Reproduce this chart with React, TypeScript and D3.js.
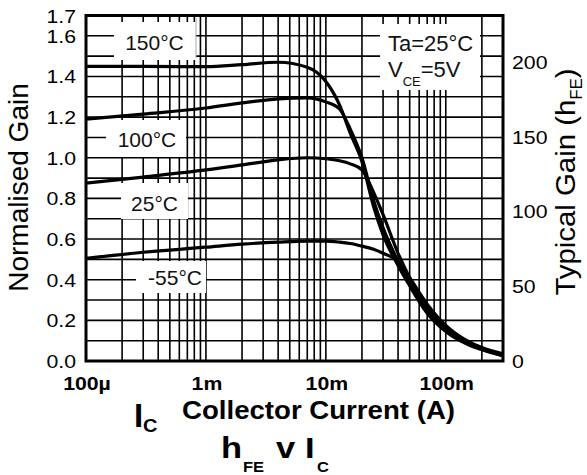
import React from 'react';
import * as d3 from 'd3';

// ---- data ----
const currents = [1e-4, 3e-4, 1e-3, 2e-3, 4e-3, 7e-3, 10e-3, 13e-3, 16e-3, 20e-3, 25e-3, 30e-3, 40e-3, 50e-3, 70e-3, 100e-3, 150e-3, 200e-3, 300e-3];
const gain150 = [1.45, 1.45, 1.448, 1.458, 1.47, 1.445, 1.375, 1.26, 1.12, 0.98, 0.76, 0.62, 0.47, 0.37, 0.235, 0.145, 0.083, 0.055, 0.025];
const gain100 = [1.19, 1.215, 1.245, 1.27, 1.29, 1.295, 1.275, 1.24, 1.14, 1.0, 0.79, 0.655, 0.49, 0.38, 0.245, 0.15, 0.087, 0.058, 0.027];
const gain25 = [0.875, 0.905, 0.94, 0.965, 0.99, 1.0, 0.995, 0.985, 0.97, 0.94, 0.83, 0.72, 0.53, 0.41, 0.265, 0.16, 0.092, 0.06, 0.03];
const gainM55 = [0.505, 0.535, 0.56, 0.575, 0.585, 0.59, 0.59, 0.585, 0.578, 0.565, 0.55, 0.53, 0.49, 0.41, 0.28, 0.175, 0.1, 0.066, 0.035];
const seriesNames = ['150°C', '100°C', '25°C', '-55°C'];
const seriesValues = [gain150, gain100, gain25, gainM55];
const leftTicks = [0, 0.2, 0.4, 0.6, 0.8, 1.0, 1.2, 1.4, 1.6, 1.7];
const rightTicks = [0, 50, 100, 150, 200];
const xTicks = [1e-4, 1e-3, 1e-2, 1e-1];
const xTickLabels = ['100µ', '1m', '10m', '100m'];

// ---- layout ----
const W = 587, H = 475;
const L = 86, R = 503, T = 15.5, B = 361;
const FONT = "'Liberation Sans', Arial, sans-serif";

const x = d3.scaleLog().domain([1e-4, 0.3]).range([L, R]);
const y = d3.scaleLinear().domain([0, 1.7]).range([B, T]);
const yR = d3.scaleLinear().domain([0, 231]).range([B, T]);

const labelBoxes = [
  { bx: 114, by: 22, bw: 82, bh: 38, tx: 154.5, ty: 50 },
  { bx: 106, by: 120, bw: 80, bh: 37, tx: 147, ty: 146.5 },
  { bx: 121, by: 183, bw: 67, bh: 36, tx: 154.5, ty: 211 },
  { bx: 136, by: 261, bw: 70, bh: 32, tx: 175, ty: 285 },
];

function ST({ x: px, y: py, sx = 1.12, anchor = 'middle', size = 19, weight = 'normal', baseline, children }: any) {
  return (
    <text
      transform={`translate(${px},${py}) scale(${sx},1)`}
      textAnchor={anchor}
      fontSize={size}
      fontWeight={weight}
      dominantBaseline={baseline}
      fontFamily={FONT}
      fill="#000"
    >
      {children}
    </text>
  );
}

export default function App() {
  const hGrid = d3.range(1, 17).map((i) => i / 10);
  const vGrid: number[] = [];
  for (let d = -4; d <= -1; d++) {
    for (let m = 1; m <= 9; m++) {
      const v = m * Math.pow(10, d);
      if (v > 1e-4 * 1.0001 && v < 0.3 * 0.999) vGrid.push(v);
    }
  }
  const line = d3
    .line<number>()
    .x((_, i) => x(currents[i]))
    .y((v) => y(v))
    .curve(d3.curveMonotoneX);

  return (
    <svg width={W} height={H} style={{ position: 'fixed', left: 0, top: 0, background: '#fff' }}>
      <rect width={W} height={H} fill="#fff" />
      {/* grid */}
      <g stroke="#000" strokeWidth={1.6}>
        {hGrid.map((v) => (
          <line key={'h' + v} x1={L} x2={R} y1={y(v)} y2={y(v)} />
        ))}
        {vGrid.map((v) => (
          <line key={'v' + v} x1={x(v)} x2={x(v)} y1={T} y2={B} />
        ))}
      </g>
      {/* label boxes */}
      {labelBoxes.map((b, i) => (
        <rect key={'b' + i} x={b.bx} y={b.by} width={b.bw} height={b.bh} fill="#fff" />
      ))}
      <line x1={196} x2={196} y1={18} y2={58} stroke="#aaa" strokeWidth={1} />
      <rect x={380} y={24} width={100} height={66} fill="#fff" />
      {/* frame */}
      <rect x={L} y={T} width={R - L} height={B - T} fill="none" stroke="#000" strokeWidth={3} />
      {/* curves */}
      <g fill="none" stroke="#000" strokeWidth={3.2} strokeLinejoin="round">
        {seriesValues.map((vals, i) => (
          <path key={'c' + i} d={line(vals) || ''} />
        ))}
      </g>
      {/* series labels */}
      {labelBoxes.map((b, i) => (
        <text key={'t' + i} x={b.tx} y={b.ty} textAnchor="middle" fontSize={21} fontFamily={FONT} fill="#111">
          {seriesNames[i]}
        </text>
      ))}
      <text x={388} y={50.5} fontSize={22} fontFamily={FONT} fill="#111">Ta=25°C</text>
      <text x={388} y={77} fontSize={22} fontFamily={FONT} fill="#111">
        V<tspan fontSize={13} dy={9}>CE</tspan><tspan dy={-9}>=5V</tspan>
      </text>
      {/* left ticks */}
      {leftTicks.map((v) => (
        <ST key={'l' + v} x={76} y={y(v) + 7} anchor="end" size={19}>
          {v.toFixed(1)}
        </ST>
      ))}
      {/* right ticks */}
      {rightTicks.map((v) => (
        <ST key={'r' + v} x={512} y={yR(v) + 7} anchor="start" size={19}>
          {v}
        </ST>
      ))}
      {/* x ticks */}
      {xTicks.map((v, i) => (
        <ST key={'x' + v} x={x(v) + 1} y={390} anchor="middle" size={19} weight="bold">
          {xTickLabels[i]}
        </ST>
      ))}
      {/* axis titles */}
      <text
        transform="translate(28,187.5) rotate(-90)"
        textAnchor="middle"
        fontSize={28}
        fontFamily={FONT}
        fill="#000"
      >
        Normalised Gain
      </text>
      <text
        transform="translate(575,182) rotate(-90) scale(1.05,1)"
        textAnchor="middle"
        fontSize={28}
        fontFamily={FONT}
        fill="#000"
      >
        Typical Gain (h<tspan fontSize={16} dy={7}>FE</tspan><tspan dy={-7}>)</tspan>
      </text>
      <ST x={134} y={427} anchor="start" size={33} weight="bold" sx={1}>I</ST>
      <ST x={143} y={432} anchor="start" size={19} weight="bold" sx={1.05}>C</ST>
      <ST x={182} y={419} anchor="start" size={25} weight="bold" sx={1.105}>Collector Current (A)</ST>
      {/* chart title */}
      <ST x={221} y={458} anchor="start" size={30} weight="bold" sx={1.15}>h</ST>
      <ST x={243} y={472} anchor="start" size={15} weight="bold" sx={1.1}>FE</ST>
      <ST x={276} y={458} anchor="start" size={30} weight="bold" sx={1.15}>v</ST>
      <ST x={305} y={458} anchor="start" size={30} weight="bold" sx={1.15}>I</ST>
      <ST x={317} y={472} anchor="start" size={15} weight="bold" sx={1.1}>C</ST>
    </svg>
  );
}
